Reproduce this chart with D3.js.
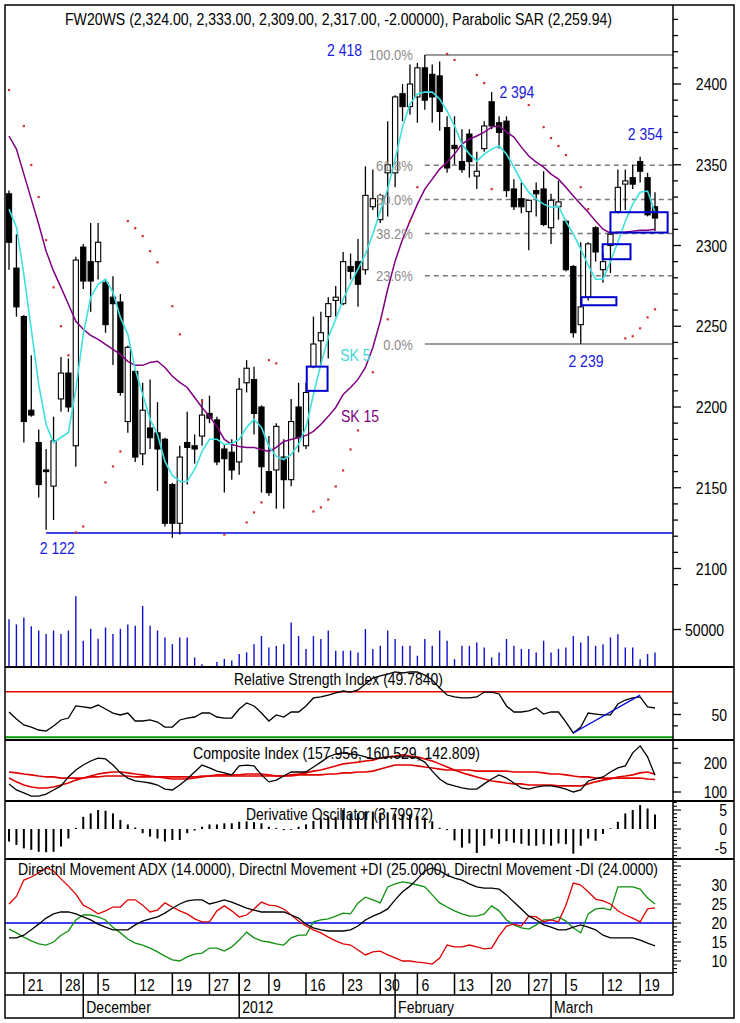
<!DOCTYPE html>
<html><head><meta charset="utf-8">
<script src="https://cdn.jsdelivr.net/npm/d3@7"></script>
<style>body{margin:0;background:#fff}svg{display:block}text{font-family:"Liberation Sans",Arial,sans-serif}</style>
</head><body><svg id="c" width="740" height="1023"></svg>
<script>
const dates=["2011-11-17","2011-11-18","2011-11-21","2011-11-22","2011-11-23","2011-11-24","2011-11-25","2011-11-28","2011-11-29","2011-11-30",
"2011-12-01","2011-12-02","2011-12-05","2011-12-06","2011-12-07","2011-12-08","2011-12-09","2011-12-12","2011-12-13","2011-12-14","2011-12-15","2011-12-16","2011-12-19","2011-12-20","2011-12-21","2011-12-22","2011-12-23","2011-12-27","2011-12-28","2011-12-29","2011-12-30",
"2012-01-02","2012-01-03","2012-01-04","2012-01-05","2012-01-09","2012-01-10","2012-01-11","2012-01-12","2012-01-13","2012-01-16","2012-01-17","2012-01-18","2012-01-19","2012-01-20","2012-01-23","2012-01-24","2012-01-25","2012-01-26","2012-01-27","2012-01-30","2012-01-31",
"2012-02-01","2012-02-02","2012-02-03","2012-02-06","2012-02-07","2012-02-08","2012-02-09","2012-02-10","2012-02-13","2012-02-14","2012-02-15","2012-02-16","2012-02-17","2012-02-20","2012-02-21","2012-02-22","2012-02-23","2012-02-24","2012-02-27","2012-02-28","2012-02-29",
"2012-03-01","2012-03-02","2012-03-05","2012-03-06","2012-03-07","2012-03-08","2012-03-09","2012-03-12","2012-03-13","2012-03-14","2012-03-15","2012-03-16","2012-03-19","2012-03-20","2012-03-21"];
const open=[2332,2286,2256,2198,2178,2161,2151,2205,2221,2176, 2299,2290,2290,2277,2268,2265,2191,2222,2171,2187, 2184,2180,2152,2128,2178,2176,2182,2196,2192,2174, 2172,2166,2215,2217,2200,2160,2161,2169,2155,2200, 2176,2225,2241,2256,2266,2264,2287,2290,2285,2324, 2316,2345,2345,2394,2386,2392,2410,2406,2405,2373, 2362,2352,2369,2343,2360,2389,2376,2377,2335,2329, 2321,2334,2335,2311,2324,2315,2287,2251,2268,2311, 2285,2300,2321,2338,2342,2352,2342,2324];
const high=[2334,2307,2257,2232,2186,2174,2194,2231,2230,2293, 2301,2314,2314,2279,2281,2270,2238,2223,2215,2217, 2203,2181,2153,2176,2197,2183,2205,2207,2194,2177, 2180,2218,2229,2225,2201,2182,2190,2180,2205,2215, 2215,2256,2259,2268,2275,2296,2295,2304,2349,2347, 2332,2377,2393,2400,2412,2413,2418,2412,2414,2380, 2380,2372,2372,2358,2377,2395,2380,2380,2341,2339, 2328,2339,2346,2332,2340,2316,2288,2302,2302,2312, 2295,2309,2347,2347,2350,2355,2345,2333];
const low=[2285,2256,2178,2194,2144,2124,2130,2197,2197,2163, 2273,2259,2279,2246,2226,2207,2184,2166,2164,2174, 2148,2126,2119,2121,2152,2165,2176,2190,2164,2147, 2155,2158,2209,2183,2147,2145,2137,2137,2151,2172, 2174,2224,2226,2230,2256,2263,2279,2262,2282,2322, 2314,2318,2336,2377,2381,2376,2384,2376,2371,2345, 2350,2345,2342,2335,2358,2372,2360,2330,2322,2320, 2297,2318,2312,2301,2316,2284,2243,2239,2266,2290, 2277,2283,2320,2322,2335,2339,2318,2309];
const close=[2302,2262,2191,2195,2152,2160,2179,2221,2200,2291, 2278,2278,2302,2251,2264,2209,2237,2169,2198,2181, 2174,2128,2128,2169,2175,2174,2195,2193,2166,2168, 2161,2211,2224,2196,2163,2147,2188,2155,2191,2181, 2209,2239,2246,2264,2268,2290,2284,2276,2331,2329, 2331,2350,2392,2386,2400,2410,2390,2392,2383,2348, 2360,2347,2352,2346,2374,2374,2370,2334,2324,2324, 2328,2332,2313,2328,2327,2285,2246,2262,2301,2296, 2290,2307,2336,2340,2338,2346,2319,2317];
const volume=[63600,56800,65900,54500,48600,44100,48600,44100,48600,94500, 35000,50900,37700,52700,44100,50900,56800,55000,81400,55000, 48600,39500,30500,39500,39500,12700,3600,500,6800,10900, 8600,17300,19500,30500,41400,25900,28200,30500,59500,41400, 24100,41400,37300,48600,21800,21800,21800,19500,50500,24100, 28200,48600,37300,28200,28200,15000,37300,28200,48600,35000, 10500,28200,28200,32700,25900,12700,19500,37300,28200,24100, 24100,19500,35000,19500,24100,25900,41400,32700,41400,28200, 30500,39500,43600,25900,25900,10500,17300,19500];
const sk5=[2322.5,2311.3,2282.2,2248.1,2214.0,2189.2,2178.0,2181.1,2184.2,2210.9, 2245.0,2268.0,2276.0,2279.1,2271.0,2255.5,2245.0,2223.3,2207.8,2192.3, 2183.0,2166.3,2157.6,2153.9,2153.9,2161.3,2172.5,2180.0,2180.0,2176.8, 2177.4,2180.0,2187.4,2192.3,2187.4,2175.6,2169.4,2167.5,2170.6,2176.8, 2187.4,2207.8,2226.4,2243.1,2254.3,2266.7,2276.6,2285.3,2294.6,2307.0, 2321.3,2334.9,2353.5,2373.3,2387.6,2393.8,2395.0,2395.0,2390.7,2383.3, 2374.0,2362.8,2356.6,2352.3,2356.6,2359.7,2361.6,2356.6,2348.5,2339.8, 2333.0,2328.7,2325.6,2323.7,2324.4,2315.0,2307.0,2297.7,2287.8,2279.1, 2279.1,2290.3,2302.0,2315.0,2325.6,2333.0,2333.7,2320.6];
const sk15=[2367.8,2359.7,2344.2,2328.7,2313.2,2296.5,2284.1,2274.1,2263.6,2253.1, 2248.1,2244.4,2241.9,2238.8,2235.7,2232.6,2228.3,2225.8,2225.8,2227.6, 2228.3,2224.5,2219.0,2215.2,2212.1,2205.9,2199.7,2194.2,2188.0,2179.9, 2176.8,2175.6,2175.0,2175.0,2173.7,2172.5,2175.0,2178.7,2179.9,2181.1, 2182.4,2184.9,2189.2,2194.2,2199.7,2207.8,2212.1,2217.1,2224.5,2236.9, 2253.1,2272.9,2290.3,2303.9,2315.1,2325.6,2334.9,2341.1,2347.3,2351.6, 2356.6,2362.8,2365.9,2367.8,2370.2,2373.3,2374.0,2370.2,2367.1,2360.9, 2355.4,2351.6,2348.5,2344.2,2341.1,2336.1,2330.6,2325.6,2320.6,2315.1, 2310.1,2307.6,2308.2,2308.2,2308.9,2309.5,2309.5,2310.1];
const sar=[2396.3,null,2374.0,2349.8,2330.0,2303.3,2274.1,2250.0,2232.0,2122.3, 2126.0,null,null,2153.3,2163.2,2172.5,2315.1,2310.7,2305.8,2296.5, 2289.6,null,2262.4,2245.0,null,null,2203.5,null,null,2121.0, null,null,2128.5,2134.7,2140.9,2229.0,2227.0,null,null,null, null,2135.3,2137.8,2142.7,2150.8,2160.7,2173.7,2185.5,null,2221.5, null,2254.3,null,null,2315.1,2336.1,null,null,null,2418.6, 2414.9,null,null,2405.6,2400.6,2334.9,null,null,null,2391.3, 2387.0,null,2373.3,2366.5,2361.6,2356.0,null,2336.1,2322.5,null, null,null,null,2242.5,2243.8,2248.7,2255.5,2260.5];
const rsi=[52.2,46.1,40.8,39.0,36.4,35.5,39.9,45.2,46.9,57.5, 56.6,55.7,58.3,54.8,51.3,49.6,51.3,44.3,44.3,45.2, 43.4,39.0,39.0,45.2,46.9,47.8,51.3,51.3,47.8,46.9, 46.9,54.8,60.1,57.5,51.3,44.3,49.6,47.8,52.2,52.2, 57.5,64.5,65.4,67.1,68.9,70.6,69.7,71.5,76.8,82.0, 83.8,85.5,87.3,86.4,87.3,87.3,84.6,80.3,73.2,67.1, 65.4,64.5,64.5,65.4,69.7,69.7,68.0,57.5,52.2,52.2, 53.1,55.7,50.4,52.2,52.2,43.4,33.8,39.0,51.3,50.4, 49.6,49.6,59.2,62.7,64.5,65.4,56.6,55.7];
const compIdx=[128,107,97,86,86,93,107,121,152,176, 193,207,217,214,193,166,148,138,135,131, 124,110,107,124,145,169,193,183,172,166, 159,190,193,190,159,135,141,155,169,169, 169,186,203,221,231,235,231,228,221,214, 217,221,221,221,221,217,203,172,145,128, 121,114,110,110,128,145,159,148,131,114, 110,117,121,121,117,110,100,107,138,145, 152,169,183,190,235,259,221,158];
const compFast=[148,135,124,117,114,114,117,124,131,141, 148,155,162,166,169,169,166,162,159,155, 152,148,145,145,145,148,152,155,159,159, 159,159,162,162,162,159,155,155,159,162, 166,172,176,183,190,197,200,203,207,210, 217,221,224,228,224,221,214,207,197,186, 176,166,159,152,145,138,135,131,128,128, 124,124,124,124,121,121,121,121,128,135, 141,145,152,155,159,166,169,161];
const compSlow=[169,166,162,159,155,152,152,148,148,148, 148,152,152,155,155,155,155,152,152,152, 152,152,152,152,152,152,155,155,155,155, 155,155,155,155,155,155,155,155,155,159, 159,159,159,162,162,166,166,169,169,172, 179,186,193,193,193,190,186,183,179,176, 176,176,176,172,172,172,172,172,169,169, 169,169,166,162,162,159,155,152,152,148, 148,148,148,148,148,148,145,143];
const derivOsc=[-3.3,-4.2,-5.1,-5.5,-6.0,-6.1,-6.0,-4.6,-2.5,0.3, 3.2,4.1,5.0,4.8,4.1,2.4,1.2,0.4,-1.1,-2.0, -2.5,-3.3,-2.9,-2.9,-1.1,-0.4,0.6,1.2,1.2,1.5, 1.5,1.9,2.0,1.8,1.5,0.6,0.3,-0.3,-0.2,0.6, 1.2,2.1,2.8,3.2,3.2,5.0,4.1,4.1,4.6,4.6, 4.3,4.4,4.0,3.8,3.8,3.4,3.0,2.0,0.3,-0.3, -3.0,-4.9,-3.8,-6.3,-4.4,-2.5,-3.9,-3.2,-3.6,-3.9, -4.4,-4.4,-4.0,-4.4,-3.8,-4.0,-6.5,-4.4,-2.5,-3.1, -1.3,0.2,1.9,4.1,5.0,6.3,5.4,3.8];
const minusDI=[25.0,27.0,31.3,32.1,33.2,34.5,33.7,31.6,29.7,27.6, 24.7,23.7,22.4,23.2,24.2,24.2,26.1,26.1,24.7,22.9, 23.4,25.3,24.2,23.2,22.4,21.1,20.3,20.3,23.2,24.5, 23.2,21.6,22.1,23.7,25.5,24.7,24.5,23.7,22.1,20.5, 19.2,18.2,17.4,16.3,15.3,14.5,14.2,12.9,11.6,12.4, 12.6,11.6,10.8,10.0,10.0,9.7,9.5,9.2,10.8,14.2, 13.7,13.7,14.2,13.7,13.2,13.4,16.6,19.2,19.7,19.2, 21.8,21.6,20.3,20.8,20.3,24.7,30.5,30.0,28.2,26.3, 25.8,25.0,23.2,22.1,21.3,20.3,23.7,24.0];
const plusDI=[18.4,17.4,16.3,15.3,14.5,14.2,15.0,16.8,17.9,20.8, 22.1,22.1,21.6,20.8,18.9,17.4,15.8,14.7,14.2,13.4, 12.4,11.3,10.3,10.0,11.1,11.8,12.1,13.4,13.4,12.6, 13.7,15.5,17.6,16.1,15.3,15.0,14.5,14.2,16.1,16.8, 16.8,20.3,20.8,21.1,21.8,22.6,22.4,25.3,26.8,26.1, 25.3,29.5,30.3,30.8,30.5,30.0,29.5,27.4,25.3,24.2, 23.2,22.4,21.8,21.8,22.4,24.5,23.2,20.8,19.5,18.7, 18.4,19.5,20.8,20.8,21.6,20.5,18.7,17.4,22.4,23.7, 23.9,23.4,29.5,29.5,29.5,28.9,26.6,25.0];
const adx=[16.1,16.1,16.8,18.2,19.7,21.3,22.4,22.9,22.9,22.4, 21.6,20.8,19.7,18.9,18.2,18.2,18.2,19.5,20.5,21.1, 21.6,22.6,23.9,25.0,25.8,26.1,26.1,25.0,25.5,26.1, 25.5,24.7,23.9,23.4,22.9,22.9,22.9,22.9,22.1,21.3, 19.7,18.7,18.2,17.9,17.9,17.9,18.2,19.2,20.8,21.8, 22.6,23.7,26.1,28.2,29.7,31.6,33.7,34.5,33.7,32.6, 31.8,31.3,30.3,29.5,29.2,29.2,28.9,27.4,25.5,23.7, 21.8,20.8,19.5,18.9,18.2,18.2,18.9,19.5,18.9,18.2, 16.8,16.1,16.1,16.1,16.1,15.5,14.7,14.0];
const priceTicks=[2100,2150,2200,2250,2300,2350,2400];
const dayTicks=[["2011-11-21","21"],["2011-11-28","28"],["2011-12-05","5"],["2011-12-12","12"],["2011-12-19","19"],["2011-12-27","27"],["2012-01-02","2"],["2012-01-09","9"],["2012-01-16","16"],["2012-01-23","23"],["2012-01-30","30"],["2012-02-06","6"],["2012-02-13","13"],["2012-02-20","20"],["2012-02-27","27"],["2012-03-05","5"],["2012-03-12","12"],["2012-03-19","19"]];
const monthTicks=[["2011-12-01","December"],["2012-01-02","2012"],["2012-02-01","February"],["2012-03-01","March"]];
const fibLevels=[0,0.236,0.382,0.5,0.618,1];
const fibLabels=["0.0%","23.6%","38.2%","50.0%","61.8%","100.0%"];
const fibLow=2239, fibHigh=2418, fibStart=56;
const supportLevel=2122, supportStart=5;
const gapBoxes=[[40.1,42.9,2210,2225],[77.1,81.8,2263,2268],[79.95,83.7,2291.5,2300.8],[81.0,88.7,2308,2320.6]];
const priceNotes=[["2 418",45.2,2421],["2 394",68.4,2394.5],["2 354",85.7,2368.5],["2 239",77.7,2228],["2 122",6.5,2112.5]];

const svg=d3.select("#c");
const L=5,R=673,RB=734;
const x=d3.scaleLinear().domain([0,87]).range([9,655]);
const xd=d=>x(dates.indexOf(d));
const yP=d3.scaleLinear().domain([2100,2400]).range([568.5,84]);
const yV=d3.scaleLinear().domain([0,50000]).range([667,629.5]);
const yR=d3.scaleLinear().domain([30,70]).range([737.3,691.7]);
const yC=d3.scaleLinear().domain([100,200]).range([792,763]);
const yD=d3.scaleLinear().domain([-5,5]).range([848,810]);
const yM=d3.scaleLinear().domain([10,30]).range([961,885]);
const panels=[[5,667],[667,740],[740,801],[801,859],[859,973]];
const defs=svg.append("defs");
panels.forEach((p,i)=>defs.append("clipPath").attr("id","cp"+i).append("rect").attr("x",L).attr("y",p[0]).attr("width",R-L).attr("height",p[1]-p[0]));
function T(g,px,py,s,o={}){const t=g.append("text").attr("transform",`translate(${px},${py}) scale(1,1.15)`).attr("text-anchor",o.anchor||"start").attr("font-size",o.size||14).attr("fill",o.fill||"#000").text(s);if(o.len)t.attr("textLength",o.len).attr("lengthAdjust","spacingAndGlyphs");return t;}
const line=(yS,arr)=>d3.line().defined(d=>d!=null).x((d,i)=>x(i)).y(d=>yS(d))(arr);

// ---------- price panel
const gP=svg.append("g").attr("clip-path","url(#cp0)");
const fx0=x(fibStart);
fibLevels.forEach((f,k)=>{const v=fibLow+f*(fibHigh-fibLow);
 gP.append("line").attr("x1",fx0).attr("x2",R).attr("y1",yP(v)).attr("y2",yP(v)).attr("stroke","#7a7a7a").attr("stroke-width",1.5).attr("stroke-dasharray",(f===0||f===1)?null:"5,4");
 T(svg,fx0-12,yP(v)+5.5,fibLabels[k],{anchor:"end",size:13,fill:"#8c8c8c"});});
gP.append("line").attr("x1",x(supportStart)).attr("x2",R).attr("y1",yP(supportLevel)).attr("y2",yP(supportLevel)).attr("stroke","#0000dd").attr("stroke-width",1.5);
gP.selectAll(".vb").data(volume).enter().append("line").attr("x1",(d,i)=>x(i)).attr("x2",(d,i)=>x(i)).attr("y1",yV(0)).attr("y2",d=>yV(d)).attr("stroke","#1010d0").attr("stroke-width",1.4);
const cg=gP.append("g");
dates.forEach((d,i)=>{const cx=x(i);
 cg.append("line").attr("x1",cx).attr("x2",cx).attr("y1",yP(high[i])).attr("y2",yP(low[i])).attr("stroke","#000").attr("stroke-width",1.3);
 const t=yP(Math.max(open[i],close[i])),b=yP(Math.min(open[i],close[i]));
 cg.append("rect").attr("x",cx-2.6).attr("y",t).attr("width",5.2).attr("height",Math.max(1,b-t)).attr("fill",close[i]<open[i]?"#000":"#fff").attr("stroke","#000").attr("stroke-width",1.1);});
gP.append("path").attr("d",line(yP,sk15)).attr("fill","none").attr("stroke","#800080").attr("stroke-width",1.5);
gP.append("path").attr("d",line(yP,sk5)).attr("fill","none").attr("stroke","#3ee0e0").attr("stroke-width",1.6);
sar.forEach((v,i)=>{if(v!=null)gP.append("rect").attr("x",x(i)-1.1).attr("y",yP(v)-1.1).attr("width",2.2).attr("height",2.2).attr("fill","#d03030");});
gapBoxes.forEach(b=>gP.append("rect").attr("x",x(b[0])).attr("y",yP(b[3])).attr("width",x(b[1])-x(b[0])).attr("height",yP(b[2])-yP(b[3])).attr("fill","none").attr("stroke","#0000cc").attr("stroke-width",2));
priceNotes.forEach(n=>T(svg,x(n[1]),yP(n[2])+5.5,n[0],{anchor:"middle",fill:"#1a1ae0"}));
T(svg,x(44.6),yP(2232)+5.5,"SK 5",{fill:"#40d8d8"});
T(svg,x(44.7),yP(2194.4)+5.5,"SK 15",{fill:"#800080"});
T(svg,65,25,"FW20WS (2,324.00, 2,333.00, 2,309.00, 2,317.00, -2.00000), Parabolic SAR (2,259.94)",{len:547});

// ---------- RSI
const gR=svg.append("g").attr("clip-path","url(#cp1)");
gR.append("line").attr("x1",L).attr("x2",R).attr("y1",yR(70)).attr("y2",yR(70)).attr("stroke","#e00000").attr("stroke-width",1.5);
gR.append("line").attr("x1",L).attr("x2",R).attr("y1",yR(30)).attr("y2",yR(30)).attr("stroke","#009900").attr("stroke-width",2);
gR.append("path").attr("d",line(yR,rsi)).attr("fill","none").attr("stroke","#000").attr("stroke-width",1.3);
gR.append("line").attr("x1",x(76)).attr("x2",x(85)).attr("y1",yR(33.8)).attr("y2",yR(67)).attr("stroke","#0000dd").attr("stroke-width",1.3);
T(svg,234,685,"Relative Strength Index (49.7840)",{len:209});

// ---------- Composite
const gC=svg.append("g").attr("clip-path","url(#cp2)");
gC.append("path").attr("d",line(yC,compSlow)).attr("fill","none").attr("stroke","#e00000").attr("stroke-width",1.6);
gC.append("path").attr("d",line(yC,compFast)).attr("fill","none").attr("stroke","#e00000").attr("stroke-width",1.6);
gC.append("path").attr("d",line(yC,compIdx)).attr("fill","none").attr("stroke","#000").attr("stroke-width",1.3);
T(svg,193,759,"Composite Index (157.956, 160.529, 142.809)",{len:287});

// ---------- Derivative oscillator
const gD=svg.append("g").attr("clip-path","url(#cp3)");
gD.selectAll(".db").data(derivOsc).enter().append("line").attr("x1",(d,i)=>x(i)).attr("x2",(d,i)=>x(i)).attr("y1",yD(0)).attr("y2",d=>yD(d)).attr("stroke","#000").attr("stroke-width",2);
T(svg,246,820,"Derivative Oscillator (3.79972)",{len:187});

// ---------- DMI
const gM=svg.append("g").attr("clip-path","url(#cp4)");
gM.append("line").attr("x1",L).attr("x2",R).attr("y1",yM(20)).attr("y2",yM(20)).attr("stroke","#0000ee").attr("stroke-width",1.5);
gM.append("path").attr("d",line(yM,plusDI)).attr("fill","none").attr("stroke","#109010").attr("stroke-width",1.3);
gM.append("path").attr("d",line(yM,minusDI)).attr("fill","none").attr("stroke","#e00000").attr("stroke-width",1.3);
gM.append("path").attr("d",line(yM,adx)).attr("fill","none").attr("stroke","#000").attr("stroke-width",1.3);
T(svg,18,875,"Directnl Movement ADX (14.0000), Directnl Movement +DI (25.0000), Directnl Movement -DI (24.0000)",{len:640});

// ---------- frame & axes
const fr=svg.append("g").attr("stroke","#000").attr("fill","none");
fr.append("rect").attr("x",L).attr("y",5).attr("width",RB-L).attr("height",1013).attr("stroke-width",1.5);
[667,740,801,859].forEach(yy=>fr.append("line").attr("x1",L).attr("x2",RB).attr("y1",yy).attr("y2",yy).attr("stroke-width",2));
fr.append("line").attr("x1",R).attr("x2",R).attr("y1",5).attr("y2",995).attr("stroke-width",1.5);
fr.append("line").attr("x1",L).attr("x2",R).attr("y1",973).attr("y2",973).attr("stroke-width",1.5);
fr.append("line").attr("x1",L).attr("x2",R).attr("y1",995).attr("y2",995).attr("stroke-width",1.5);
d3.range(2090,2450,10).forEach(v=>{const yy=yP(v);if(yy<8||yy>665)return;const maj=v%50===0;fr.append("line").attr("x1",R).attr("x2",R+(maj?8:5)).attr("y1",yy).attr("y2",yy).attr("stroke-width",1.3);});
priceTicks.forEach(v=>T(svg,727,yP(v)+6,String(v),{anchor:"end"}));
fr.append("line").attr("x1",R).attr("x2",R+8).attr("y1",yV(50000)).attr("y2",yV(50000)).attr("stroke-width",1.3);
T(svg,724,yV(50000)+6,"50000",{anchor:"end"});
[40,50,60].forEach(v=>fr.append("line").attr("x1",R).attr("x2",R+(v===50?8:5)).attr("y1",yR(v)).attr("y2",yR(v)).attr("stroke-width",1.3));
T(svg,727,yR(50)+6,"50",{anchor:"end"});
[100,150,200,250].forEach(v=>fr.append("line").attr("x1",R).attr("x2",R+(v%100===0?8:5)).attr("y1",yC(v)).attr("y2",yC(v)).attr("stroke-width",1.3));
[100,200].forEach(v=>T(svg,727,yC(v)+6,String(v),{anchor:"end"}));
d3.range(-7,8).forEach(v=>fr.append("line").attr("x1",R).attr("x2",R+(v%5===0?8:4)).attr("y1",yD(v)).attr("y2",yD(v)).attr("stroke-width",1.1));
[5,0,-5].forEach(v=>T(svg,727,yD(v)+6,String(v),{anchor:"end"}));
d3.range(7,37).forEach(v=>fr.append("line").attr("x1",R).attr("x2",R+(v%5===0?8:4)).attr("y1",yM(v)).attr("y2",yM(v)).attr("stroke-width",1.1));
[30,25,20,15,10].forEach(v=>T(svg,727,yM(v)+6,String(v),{anchor:"end"}));
dayTicks.forEach(t=>{const xx=xd(t[0]);fr.append("line").attr("x1",xx).attr("x2",xx).attr("y1",973).attr("y2",995).attr("stroke-width",1.5);T(svg,xx+4,991,t[1]);});
monthTicks.forEach(t=>{const xx=xd(t[0]);fr.append("line").attr("x1",xx).attr("x2",xx).attr("y1",973).attr("y2",1018).attr("stroke-width",1.5);T(svg,xx+3,1013,t[1]);});
</script></body></html>
